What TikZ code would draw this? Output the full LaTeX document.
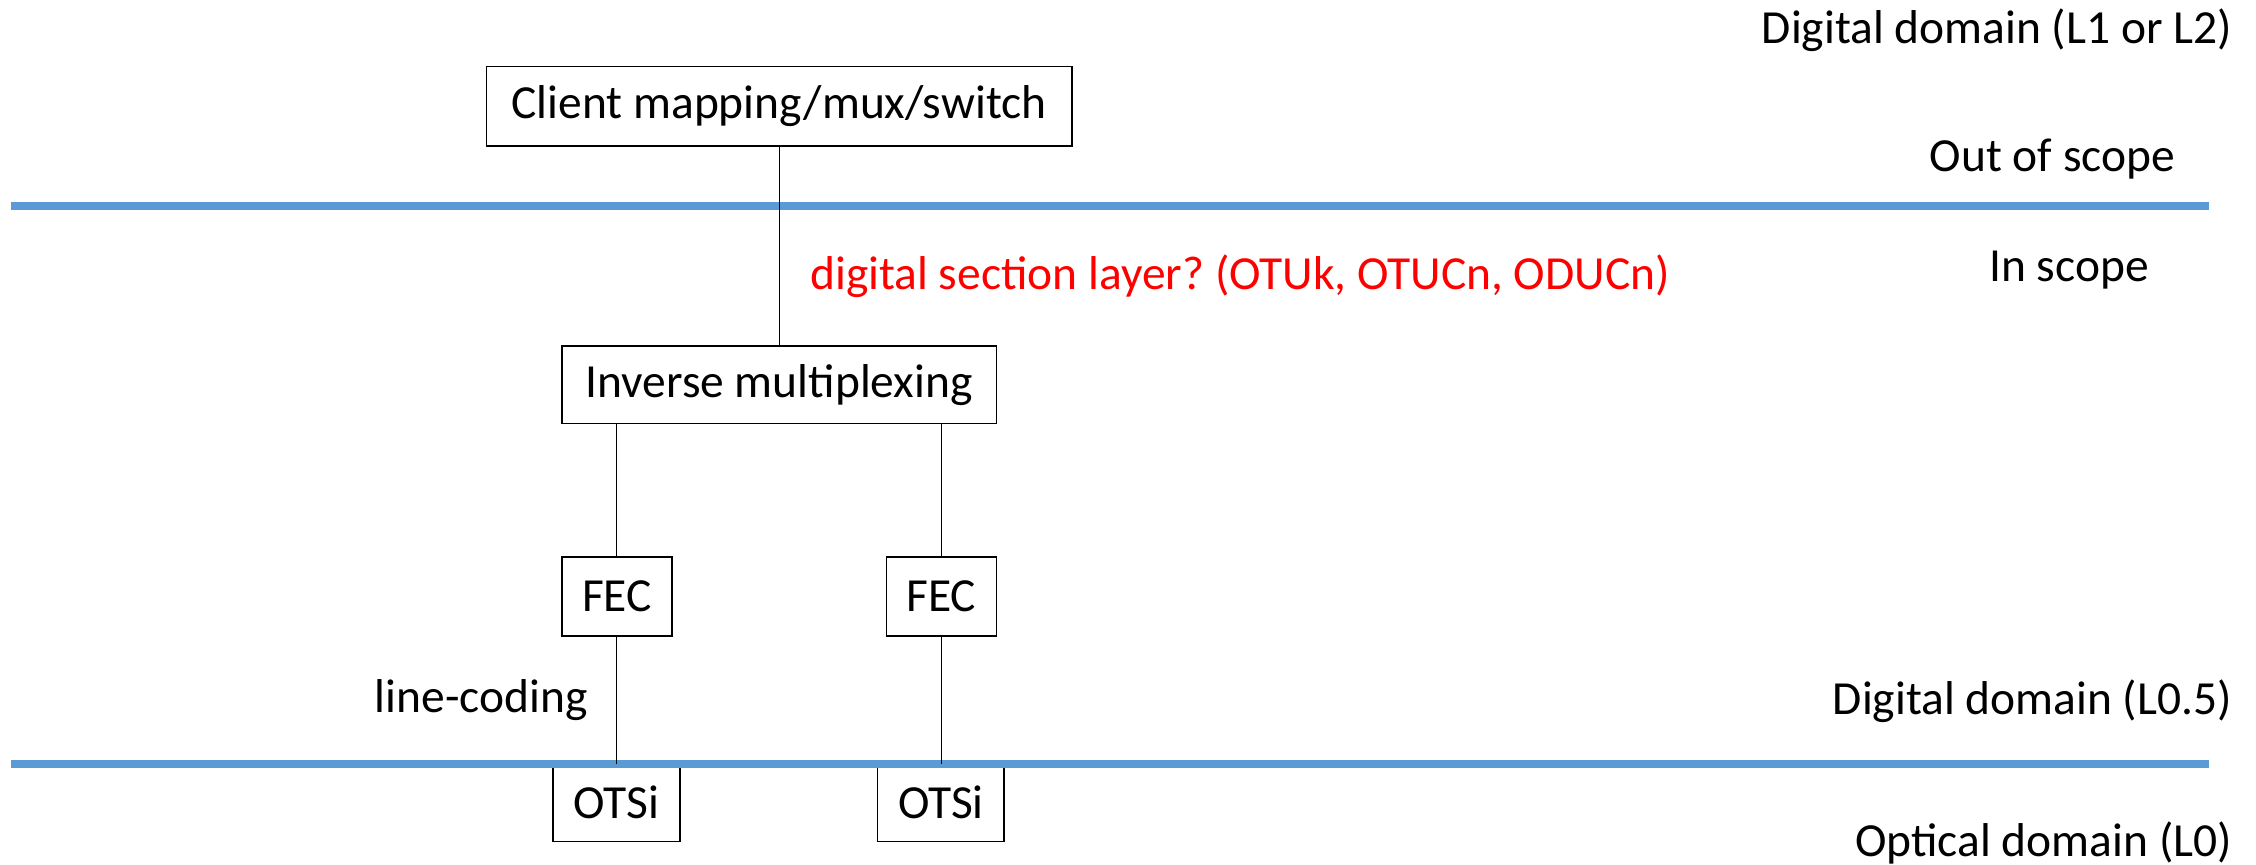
\documentclass[tikz,border=0pt]{standalone}
\usepackage{fontspec}
\setmainfont{Carlito}
\definecolor{lineblue}{RGB}{91,155,213}
\frenchspacing
\begin{document}
\begin{tikzpicture}[x=1pt,y=-1pt,
  box/.style={draw=black, line width=1.1pt, inner sep=0pt, fill=white, font=\fontsize{33}{40}\selectfont},
  lbl/.style={inner sep=0pt, font=\fontsize{33}{40}\selectfont},
  conn/.style={draw=black, line width=0.7pt},
  domline/.style={draw=lineblue, line width=5.5pt}]
\useasboundingbox (0,0) rectangle (1568,601);
% boxes
\node[box, minimum width=407pt, minimum height=55pt] (client) at (541.5,73.8) {Client mapping/mux/switch};
\node[box, minimum width=302pt, minimum height=54pt] (inv) at (541.5,267.4) {Inverse multiplexing};
\node[box, minimum width=76.5pt, minimum height=55pt] (fec1) at (428.75,414.5) {FEC};
\node[box, minimum width=76.5pt, minimum height=55pt] (fec2) at (654.25,414.5) {FEC};
\node[box, minimum width=88pt, minimum height=55pt] (otsi1) at (428.5,557.5) {OTSi};
\node[box, minimum width=88pt, minimum height=55pt] (otsi2) at (654,557.5) {OTSi};
% domain lines
\coordinate (l1a) at (7.5,143.2);
\coordinate (l1b) at (1535.5,143.2);
\coordinate (l2a) at (7.5,531);
\coordinate (l2b) at (1535.5,531);
\draw[domline] (l1a) -- (l1b);
\draw[domline] (l2a) -- (l2b);
% connectors
\draw[conn] (client.south) -- (inv.north);
\draw[conn] (inv.south -| fec1.north) -- (fec1.north);
\draw[conn] (inv.south -| fec2.north) -- (fec2.north);
\draw[conn] (fec1.south) -- (fec1.south |- l2a);
\draw[conn] (fec2.south) -- (fec2.south |- l2a);
% labels
\node[lbl, anchor=east] (dd1) at (1551.5,20.9) {Digital domain (L1 or L2)};
\node[lbl] (oos) at (1426.5,110.7) {Out of scope};
\node[lbl] (ins) at (1438,187.7) {In scope};
\node[lbl, anchor=west, text=red] (dsl) at (563,192.3) {digital section layer? (OTUk, OTUCn, ODUCn)};
\node[lbl, anchor=east] (lc) at (408.5,486.6) {line-coding};
\node[lbl, anchor=east] (dd05) at (1551.5,487.7) {Digital domain (L0.5)};
\node[lbl, anchor=east] (od) at (1551.5,586) {Optical domain (L0)};
\end{tikzpicture}
\end{document}
